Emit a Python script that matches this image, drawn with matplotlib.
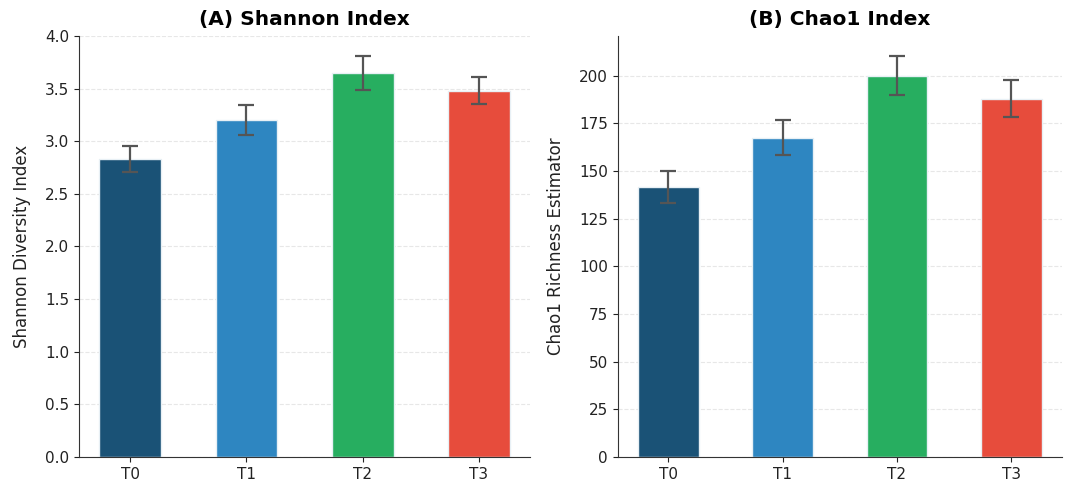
import matplotlib
matplotlib.use('Agg')
import matplotlib.pyplot as plt
import numpy as np

# data
groups = ["T0", "T1", "T2", "T3"]
shannon_mean = [2.83, 3.20, 3.65, 3.48]
shannon_err = [0.12, 0.14, 0.16, 0.13]
chao1_mean = [141.5, 167.5, 200.0, 188.0]
chao1_err = [8.3, 9.2, 10.3, 9.5]
colors = ["#1a5276", "#2e86c1", "#27ae60", "#e74c3c"]

fig = plt.figure(figsize=(10.65, 4.86), dpi=100)
ax1 = fig.add_axes([0.074, 0.06, 0.424, 0.866])
ax2 = fig.add_axes([0.580, 0.06, 0.417, 0.866])

panels = [
    (ax1, shannon_mean, shannon_err, "(A) Shannon Index", "Shannon Diversity Index"),
    (ax2, chao1_mean, chao1_err, "(B) Chao1 Index", "Chao1 Richness Estimator"),
]

for ax, vals, errs, title, ylabel in panels:
    x = np.arange(len(groups))
    ax.bar(x, vals, yerr=errs, width=0.53, color=colors, edgecolor="#e8f0f5",
           linewidth=1, capsize=6,
           error_kw=dict(ecolor="#555555", elinewidth=1.6, capthick=1.6))
    ax.set_xticks(x)
    ax.set_xticklabels(groups, fontsize=11)
    ax.tick_params(axis="y", labelsize=11, colors="#222222")
    ax.tick_params(axis="x", colors="#222222")
    ax.set_ylabel(ylabel, fontsize=12, color="#222222", labelpad=10)
    ax.set_title(title, fontsize=14.5, fontweight="bold", pad=8)
    ax.yaxis.grid(True, linestyle="--", alpha=0.3)
    ax.set_axisbelow(True)
    ax.spines["top"].set_visible(False)
    ax.spines["right"].set_visible(False)
    ax.spines["left"].set_color("#333333")
    ax.spines["bottom"].set_color("#333333")

plt.savefig("out.png", dpi=100)
plt.close()
